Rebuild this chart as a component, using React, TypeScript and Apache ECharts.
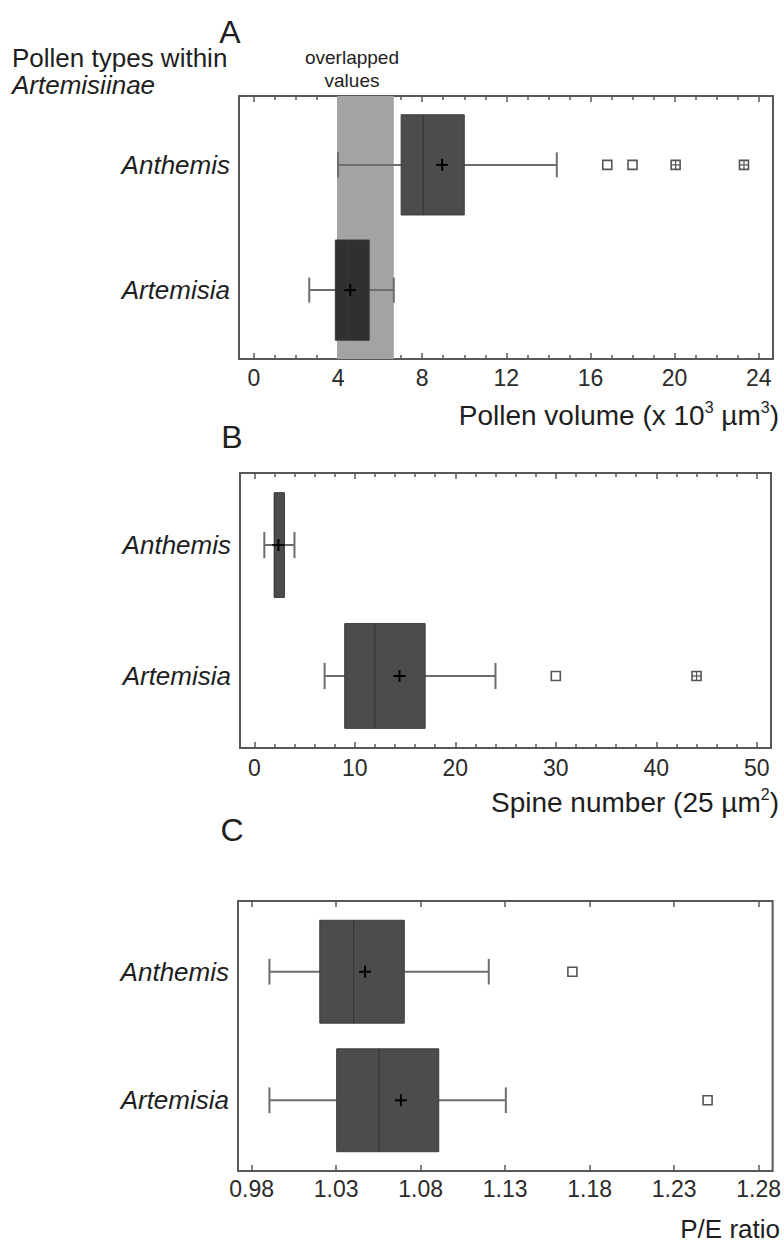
import React, { useEffect, useRef } from "react";
import * as echarts from "echarts";

// ---------- data ----------
const categories = ["Artemisia", "Anthemis"]; // y = 0, y = 1

// box stats: [low whisker, Q1, median, Q3, high whisker, mean]
const volumeAnthemis = [4.0, 7.0, 8.05, 10.0, 14.4, 8.95];
const volumeArtemisia = [2.63, 3.87, 4.45, 5.48, 6.65, 4.58];
const volumeOutliersAnthemis = [16.8, 18.0];
const volumeFarOutliersAnthemis = [20.05, 23.3];
const overlapRange = [3.95, 6.65];

const spineAnthemis = [1.0, 2.0, 2.0, 3.0, 4.0, 2.4];
const spineArtemisia = [7.0, 9.0, 12.0, 17.0, 24.0, 14.45];
const spineOutliersArtemisia = [30];
const spineFarOutliersArtemisia = [44];

const peAnthemis = [0.9905, 1.0203, 1.0403, 1.0703, 1.1203, 1.0471];
const peArtemisia = [0.9905, 1.0303, 1.0552, 1.0907, 1.1304, 1.0683];
const peOutliersAnthemis = [1.1698];
const peOutliersArtemisia = [1.2498];

const volumeTicks = [0, 4, 8, 12, 16, 20, 24];
const volumeMinorTicks = [1, 2, 3, 5, 6, 7, 9, 10, 11, 13, 14, 15, 17, 18, 19, 21, 22, 23];
const spineTicks = [0, 10, 20, 30, 40, 50];
const spineMinorTicks = [2, 4, 6, 8, 12, 14, 16, 18, 22, 24, 26, 28, 32, 34, 36, 38, 42, 44, 46, 48];
const peTicks = [0.98, 1.03, 1.08, 1.13, 1.18, 1.23, 1.28];

// ---------- styles ----------
const FONT = "'Liberation Sans', Arial, Helvetica, sans-serif";
const FRAME = "#585858";
const BOX_FILL = "#4c4c4c";
const BOX_FILL_DARK = "#303030";
const WHISKER = "#6e6e6e";
const BAND = "#a3a3a3";

function boxItem(y: number, s: number[]) {
  return [y, ...s];
}

function makeBoxRender(fills: string[]) {
  return (params: any, api: any) => {
    const y = api.value(0);
    const low = api.value(1), q1 = api.value(2), med = api.value(3);
    const q3 = api.value(4), high = api.value(5), mean = api.value(6);
    const pLow = api.coord([low, y]);
    const pQ1 = api.coord([q1, y]);
    const pMed = api.coord([med, y]);
    const pQ3 = api.coord([q3, y]);
    const pHigh = api.coord([high, y]);
    const pMean = api.coord([mean, y]);
    const bh = api.size([0, 0.8])[1];
    const ch = api.size([0, 0.2])[1];
    const cy = pLow[1];
    const fill = fills[params.dataIndex];
    const ws = { stroke: WHISKER, lineWidth: 2 };
    return {
      type: "group",
      children: [
        { type: "line", shape: { x1: pLow[0], y1: cy, x2: pHigh[0], y2: cy }, style: ws },
        { type: "line", shape: { x1: pLow[0], y1: cy - ch / 2, x2: pLow[0], y2: cy + ch / 2 }, style: ws },
        { type: "line", shape: { x1: pHigh[0], y1: cy - ch / 2, x2: pHigh[0], y2: cy + ch / 2 }, style: ws },
        {
          type: "rect",
          shape: { x: pQ1[0], y: cy - bh / 2, width: pQ3[0] - pQ1[0], height: bh },
          style: { fill, stroke: "#3a3a3a", lineWidth: 1 },
        },
        { type: "line", shape: { x1: pMed[0], y1: cy - bh / 2, x2: pMed[0], y2: cy + bh / 2 }, style: { stroke: "#383838", lineWidth: 1.2 } },
        { type: "line", shape: { x1: pMean[0] - 6, y1: cy, x2: pMean[0] + 6, y2: cy }, style: { stroke: "#000", lineWidth: 2 } },
        { type: "line", shape: { x1: pMean[0], y1: cy - 6, x2: pMean[0], y2: cy + 6 }, style: { stroke: "#000", lineWidth: 2 } },
      ],
    };
  };
}

function outlierRender(params: any, api: any) {
  const p = api.coord([api.value(1), api.value(0)]);
  const crossed = api.value(2) === 1;
  const h = 4.5;
  const children: any[] = [
    { type: "rect", shape: { x: p[0] - h, y: p[1] - h, width: 2 * h, height: 2 * h }, style: { fill: "#fff", stroke: "#555", lineWidth: 1.6 } },
  ];
  if (crossed) {
    children.push(
      { type: "line", shape: { x1: p[0] - h, y1: p[1], x2: p[0] + h, y2: p[1] }, style: { stroke: "#555", lineWidth: 1.2 } },
      { type: "line", shape: { x1: p[0], y1: p[1] - h, x2: p[0], y2: p[1] + h }, style: { stroke: "#555", lineWidth: 1.2 } }
    );
  }
  return { type: "group", children };
}

function bandRender(params: any, api: any) {
  const cs = params.coordSys;
  const x1 = api.coord([api.value(0), 0])[0];
  const x2 = api.coord([api.value(1), 0])[0];
  return { type: "rect", shape: { x: x1, y: cs.y, width: x2 - x1, height: cs.height }, style: { fill: BAND } };
}

function outlierData(y: number, values: number[], crossed: number) {
  return values.map((v) => [y, v, crossed]);
}

const tickLine = { color: FRAME, width: 1.5 };

function xAxes(gridIndex: number, min: number, max: number, majors: number[], minors: number[] | null, fmt: (v: number) => string, labelMargin: number) {
  const base = {
    type: "value",
    gridIndex,
    min,
    max,
    splitLine: { show: false },
    axisLine: { show: false, onZero: false },
  };
  const axes: any[] = [
    {
      ...base,
      position: "bottom",
      axisTick: { show: true, inside: true, length: 6, customValues: majors, lineStyle: tickLine },
      axisLabel: { show: true, customValues: majors, formatter: fmt, margin: labelMargin, fontSize: 23, color: "#2a2a2a", fontFamily: FONT },
    },
    {
      ...base,
      position: "top",
      axisTick: { show: true, inside: true, length: 6, customValues: majors, lineStyle: tickLine },
      axisLabel: { show: false },
    },
  ];
  if (minors) {
    axes.push(
      {
        ...base,
        position: "bottom",
        axisTick: { show: true, inside: true, length: 4, customValues: minors, lineStyle: tickLine },
        axisLabel: { show: false },
      },
      {
        ...base,
        position: "top",
        axisTick: { show: true, inside: true, length: 4, customValues: minors, lineStyle: tickLine },
        axisLabel: { show: false },
      }
    );
  }
  return axes;
}

function yAxis(gridIndex: number) {
  return {
    type: "value",
    gridIndex,
    min: -0.55,
    max: 1.55,
    axisLine: { show: false, onZero: false },
    axisTick: { show: false },
    splitLine: { show: false },
    axisLabel: {
      show: true,
      customValues: [0, 1],
      formatter: (v: number) => categories[Math.round(v)] || "",
      fontStyle: "italic",
      fontSize: 26,
      color: "#1e1e1e",
      fontFamily: FONT,
      margin: 9,
    },
  };
}

function textEl(text: string, x: number, y: number, size: number, align: string, extra: any = {}) {
  return {
    type: "text",
    x,
    y,
    style: {
      text,
      fontSize: size,
      fontFamily: FONT,
      fill: "#1e1e1e",
      align,
      verticalAlign: "middle",
      ...extra,
    },
  };
}

function richTitle(parts: [string, boolean][], x: number, y: number, size: number) {
  const text = parts.map(([t, sup]) => (sup ? `{s|${t}}` : `{n|${t}}`)).join("");
  return {
    type: "text",
    x,
    y,
    style: {
      text,
      fontFamily: FONT,
      fill: "#1e1e1e",
      align: "right",
      verticalAlign: "middle",
      rich: {
        n: { fontSize: size, fontFamily: FONT, fill: "#1e1e1e", lineHeight: size + 4, verticalAlign: "middle" },
        s: { fontSize: Math.round(size * 0.58), fontFamily: FONT, fill: "#1e1e1e", lineHeight: size + 4, verticalAlign: "top" },
      },
    },
  };
}

export default function App() {
  const ref = useRef<HTMLDivElement>(null);
  useEffect(() => {
    document.body.style.margin = "0";
    if (!ref.current) return;
    const chart = echarts.init(ref.current, undefined, { renderer: "svg" });

    const axA = xAxes(0, -0.71, 24.68, volumeTicks, volumeMinorTicks, (v) => String(v), 7);
    const axB = xAxes(1, -1.42, 51.41, spineTicks, spineMinorTicks, (v) => String(v), 8);
    const axC = xAxes(2, 0.9719, 1.2883, peTicks, null, (v) => v.toFixed(2), 6);
    const xAxis = [...axA, ...axB, ...axC];
    const xiA = 0;
    const xiB = axA.length;
    const xiC = axA.length + axB.length;

    const option: any = {
      animation: false,
      backgroundColor: "#fff",
      grid: [
        { left: 239, top: 96, width: 534, height: 263, show: true, borderColor: FRAME, borderWidth: 2 },
        { left: 240, top: 473, width: 531, height: 275, show: true, borderColor: FRAME, borderWidth: 2 },
        { left: 238, top: 901, width: 536, height: 270, show: true, borderColor: FRAME, borderWidth: 2 },
      ],
      xAxis,
      yAxis: [yAxis(0), yAxis(1), yAxis(2)],
      series: [
        {
          type: "custom",
          xAxisIndex: xiA,
          yAxisIndex: 0,
          z: 1,
          renderItem: bandRender,
          data: [overlapRange],
        },
        {
          type: "custom",
          xAxisIndex: xiA,
          yAxisIndex: 0,
          z: 2,
          renderItem: makeBoxRender([BOX_FILL, BOX_FILL_DARK]),
          data: [boxItem(1, volumeAnthemis), boxItem(0, volumeArtemisia)],
        },
        {
          type: "custom",
          xAxisIndex: xiA,
          yAxisIndex: 0,
          z: 3,
          renderItem: outlierRender,
          data: [...outlierData(1, volumeOutliersAnthemis, 0), ...outlierData(1, volumeFarOutliersAnthemis, 1)],
        },
        {
          type: "custom",
          xAxisIndex: xiB,
          yAxisIndex: 1,
          z: 2,
          renderItem: makeBoxRender([BOX_FILL, BOX_FILL]),
          data: [boxItem(1, spineAnthemis), boxItem(0, spineArtemisia)],
        },
        {
          type: "custom",
          xAxisIndex: xiB,
          yAxisIndex: 1,
          z: 3,
          renderItem: outlierRender,
          data: [...outlierData(0, spineOutliersArtemisia, 0), ...outlierData(0, spineFarOutliersArtemisia, 1)],
        },
        {
          type: "custom",
          xAxisIndex: xiC,
          yAxisIndex: 2,
          z: 2,
          renderItem: makeBoxRender([BOX_FILL, BOX_FILL]),
          data: [boxItem(1, peAnthemis), boxItem(0, peArtemisia)],
        },
        {
          type: "custom",
          xAxisIndex: xiC,
          yAxisIndex: 2,
          z: 3,
          renderItem: outlierRender,
          data: [...outlierData(1, peOutliersAnthemis, 0), ...outlierData(0, peOutliersArtemisia, 0)],
        },
      ],
      graphic: [
        textEl("A", 230, 32, 32, "center"),
        textEl("B", 232, 437, 32, "center"),
        textEl("C", 232, 830, 32, "center"),
        textEl("Pollen types within", 12, 58, 26, "left"),
        textEl("Artemisiinae", 12, 85, 26, "left", { fontStyle: "italic" }),
        textEl("overlapped", 352, 57, 19, "center"),
        textEl("values", 352, 80, 19, "center"),
        richTitle([["Pollen volume (x 10", false], ["3", true], [" µm", false], ["3", true], [")", false]], 779, 415, 28),
        richTitle([["Spine number (25 µm", false], ["2", true], [")", false]], 779, 802, 28),
        richTitle([["P/E ratio", false]], 780, 1229, 26),
      ],
    };
    chart.setOption(option);
    return () => chart.dispose();
  }, []);
  return <div ref={ref} style={{ width: 784, height: 1245 }} />;
}
